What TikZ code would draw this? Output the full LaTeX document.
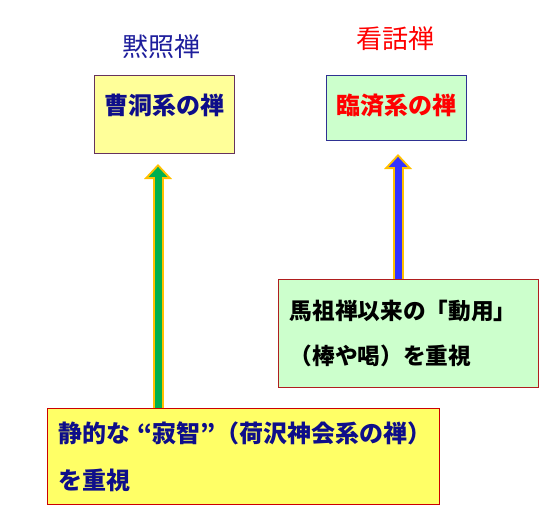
\documentclass[tikz,border=0pt]{standalone}
\usepackage{fontspec}
\usetikzlibrary{arrows.meta,positioning}
\newfontfamily\jpfont{Noto Sans CJK JP}
\definecolor{Navy}{HTML}{0E0E8A}
\definecolor{TitleNavy}{HTML}{1E1E9C}
\definecolor{Plum}{HTML}{66335E}
\definecolor{BoxBlue}{HTML}{2E3192}
\definecolor{DarkRed}{HTML}{B01E1E}
\definecolor{PaleYellow}{HTML}{FFFF99}
\definecolor{Yellow}{HTML}{FFFF66}
\definecolor{PaleGreen}{HTML}{CCFFCC}
\definecolor{Gold}{HTML}{FFC000}
\definecolor{ArrowGreen}{HTML}{00B050}
\definecolor{ArrowBlue}{HTML}{3333FF}

\begin{document}
\begin{tikzpicture}[
  x=0.75pt, y=-0.75pt,
  title/.style={
    inner sep=0pt,
    font=\jpfont\fontsize{19.5}{22}\selectfont
  },
  box/.style={
    draw,
    line width=0.75pt,
    inner sep=0pt,
    anchor=north west,
    font=\jpfont\bfseries\fontsize{18}{22}\selectfont
  },
  topbox/.style={
    box,
    minimum width=105pt,
    text height=29.25pt
  },
  notebox/.style={
    box,
    align=left,
    inner xsep=8.5pt
  },
  goldshaft/.style={draw=Gold, line width=8.25pt,
    -{Triangle[length=11.25pt,width=21pt,line width=0pt]}},
  greencore/.style={draw=ArrowGreen, line width=5.25pt,
    -{Triangle[length=7.5pt,width=14pt,line width=0pt]}},
  bluecore/.style={draw=ArrowBlue, line width=5.25pt,
    -{Triangle[length=7.5pt,width=14pt,line width=0pt]}}
]
  \useasboundingbox (0,0) rectangle (559,519);

  % headings
  \node[title, text=TitleNavy] (mokusho) at (161,47) {黙照禅};
  \node[title, text=red] (kanna) at (395,39) {看話禅};

  % schools
  \node[topbox, draw=Plum, fill=PaleYellow, text=Navy, text depth=29.25pt]
    (soto) at (94,75) {曹洞系の禅};
  \node[topbox, draw=BoxBlue, fill=PaleGreen, text=red, text depth=19.5pt]
    (rinzai) at (326,75) {臨済系の禅};

  % emphases
  \node[notebox, draw=DarkRed, fill=PaleGreen, text=black,
    text width=178pt, minimum height=81pt,
    font=\jpfont\bfseries\fontsize{17}{33.75}\selectfont]
    (baso) at (278,279) {馬祖禅以来の「動用」\\（棒や喝）を重視};
  \node[notebox, draw=red!80!black, fill=Yellow, text=Navy,
    text width=277pt, minimum height=72pt,
    font=\jpfont\bfseries\fontsize{18}{35.25}\selectfont]
    (seiteki) at (47,408) {静的な\kern5pt“寂智”（荷沢神会系の禅）\\を重視};

  \coordinate (gx) at (158,0);
  \coordinate (bx) at (398,0);

  \draw[goldshaft, shorten >=7.5pt] (seiteki.north -| gx) -- (soto.south -| gx);
  \draw[greencore, shorten >=9.7pt] (seiteki.north -| gx) -- (soto.south -| gx);
  \draw[goldshaft, shorten >=9.75pt] (baso.north -| bx) -- (rinzai.south -| bx);
  \draw[bluecore, shorten >=11.95pt] (baso.north -| bx) -- (rinzai.south -| bx);
\end{tikzpicture}
\end{document}
